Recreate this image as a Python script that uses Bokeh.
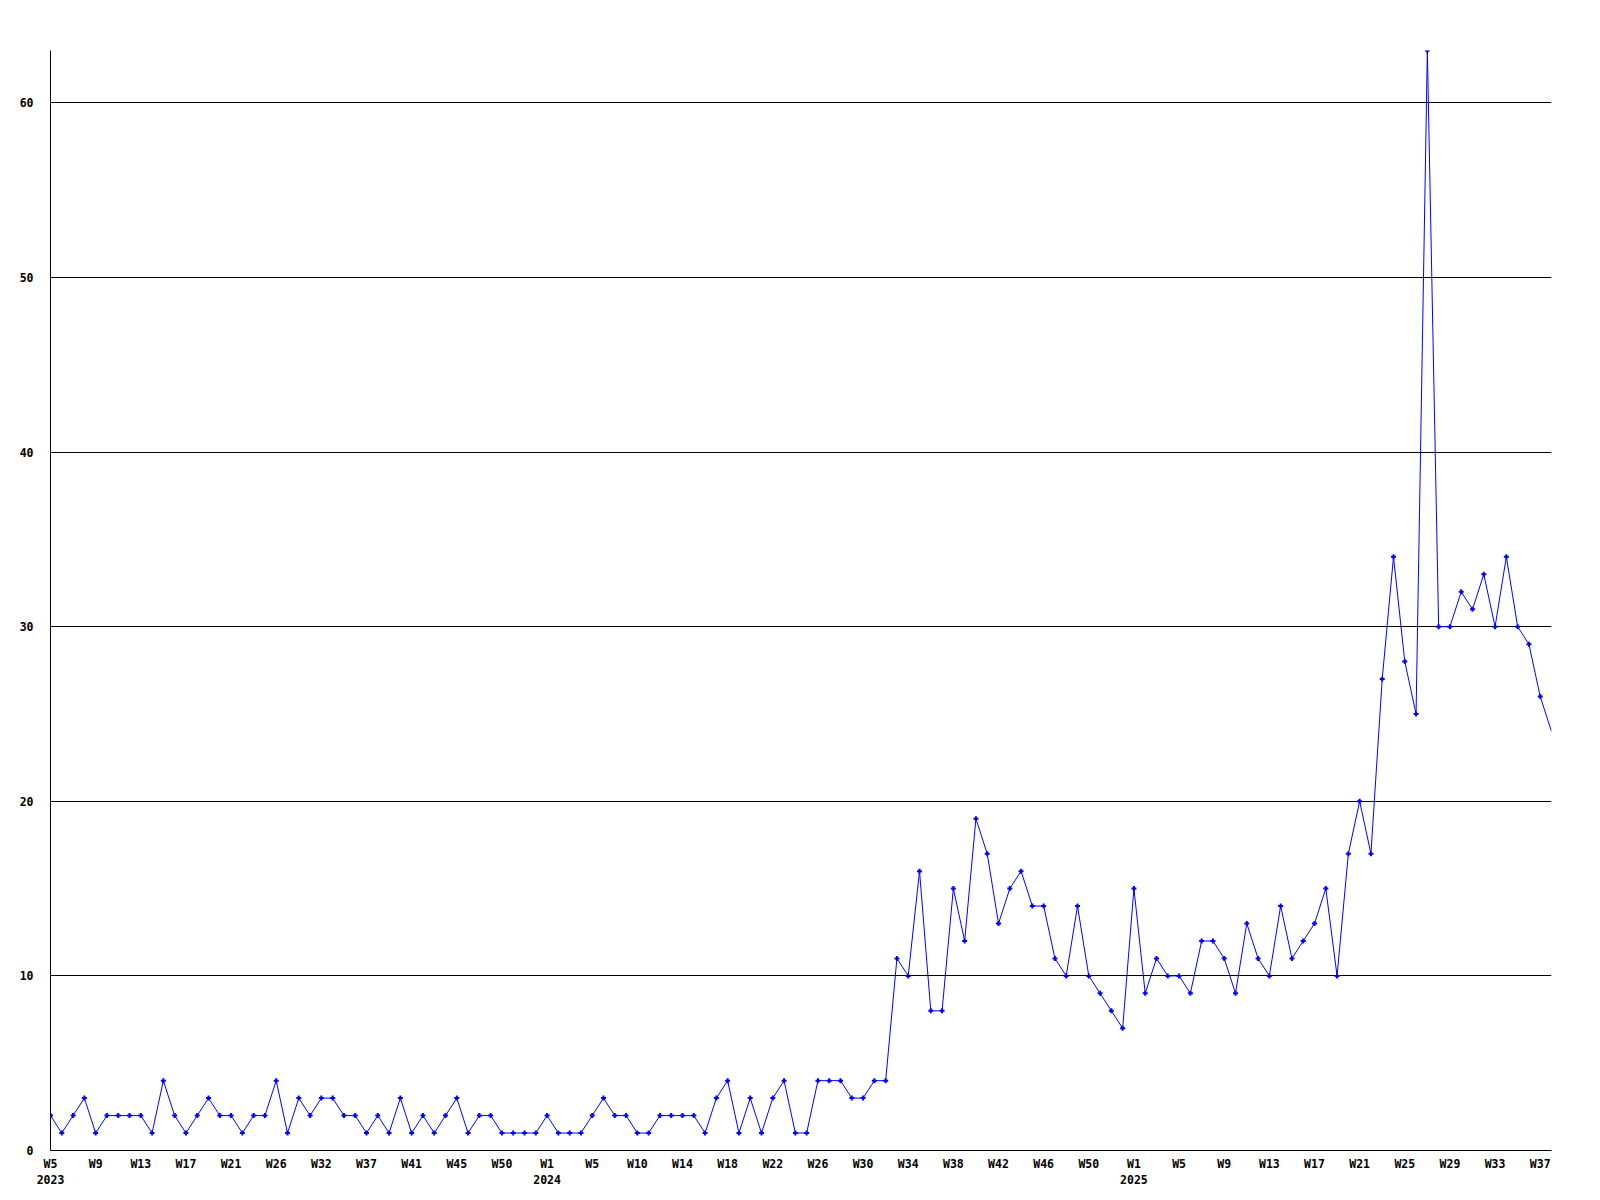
from bokeh.plotting import figure
from bokeh.models import Range1d, FixedTicker
from bokeh.embed import file_html
from bokeh.resources import INLINE

# Weekly counts, one entry per plotted point (in order)
values = [
    2, 1, 2, 3, 1, 2, 2, 2, 2, 1, 4, 2, 1, 2, 3, 2, 2, 1, 2, 2,
    4, 1, 3, 2, 3, 3, 2, 2, 1, 2, 1, 3, 1, 2, 1, 2, 3, 1, 2, 2,
    1, 1, 1, 1, 2, 1,
    1, 1, 2, 3, 2, 2, 1, 1, 2, 2, 2, 2, 1, 3, 4, 1, 3, 1, 3, 4,
    1, 1, 4, 4, 4, 3, 3, 4, 4,
    11, 10, 16, 8, 8, 15, 12, 19, 17, 13, 15, 16, 14, 14, 11, 10, 14, 10, 9, 8,
    7, 15, 9, 11, 10, 10, 9, 12, 12, 11, 9, 13, 11, 10, 14, 11, 12, 13, 15, 10,
    17, 20, 17, 27, 34, 28, 25, 63, 30, 30, 32, 31, 33, 30, 34, 30, 29, 26, 24,
]

# Tick labels shown every 4th point
week_labels = [
    "W5", "W9", "W13", "W17", "W21", "W26", "W32", "W37", "W41", "W45", "W50",
    "W1", "W5", "W10", "W14", "W18", "W22", "W26", "W30", "W34", "W38", "W42", "W46", "W50",
    "W1", "W5", "W9", "W13", "W17", "W21", "W25", "W29", "W33", "W37",
]
year_labels = {0: "2023", 11: "2024", 24: "2025"}  # label position -> year
label_step = 4

y_ticks = [0, 10, 20, 30, 40, 50, 60]

x = list(range(len(values)))
tick_pos = [i * label_step for i in range(len(week_labels))]
overrides = {}
for k, (pos, w) in enumerate(zip(tick_pos, week_labels)):
    overrides[pos] = w + ("\n" + year_labels[k] if k in year_labels else "")

FONT = "DejaVu Sans Mono"

p = figure(
    output_backend="svg", toolbar_location=None,
    frame_width=1501, frame_height=1100,
    min_border_left=50, min_border_top=50, min_border_right=40, min_border_bottom=34,
    x_range=Range1d(0, len(values) - 1), y_range=Range1d(0, max(values)),
)
p.outline_line_color = None
p.background_fill_color = "white"
p.border_fill_color = "white"

p.line(x, values, line_color="#0000FF", line_width=1)
p.scatter(x[:-1], values[:-1], marker="cross", size=5, line_width=2, color="#0000FF")

p.xgrid.visible = False
p.ygrid.grid_line_color = "black"
p.ygrid.grid_line_width = 1
p.ygrid.ticker = FixedTicker(ticks=y_ticks[1:])

p.xaxis.ticker = FixedTicker(ticks=tick_pos)
p.xaxis.major_label_overrides = overrides
p.yaxis.ticker = FixedTicker(ticks=y_ticks)

for ax in (p.xaxis, p.yaxis):
    ax.axis_line_color = "black"
    ax.axis_line_width = 1
    ax.major_tick_line_color = None
    ax.minor_tick_line_color = None
    ax.major_tick_out = 0
    ax.major_tick_in = 0
    ax.major_label_text_font = FONT
    ax.major_label_text_font_style = "bold"
    ax.major_label_text_font_size = "11.5px"
    ax.major_label_text_color = "black"

p.xaxis.major_label_standoff = 6
p.yaxis.major_label_standoff = 17

open("out.html", "w").write(file_html(p, INLINE))
